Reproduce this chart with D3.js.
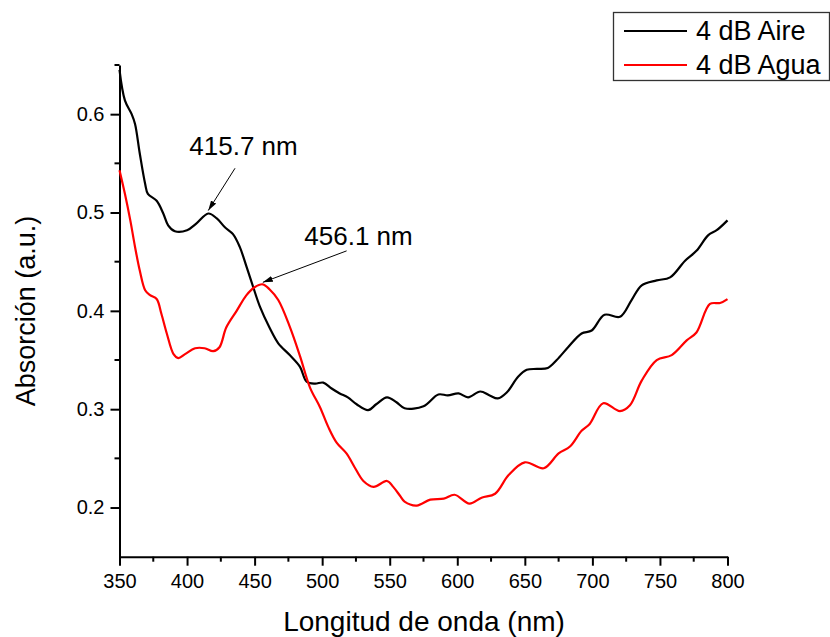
<!DOCTYPE html>
<html>
<head>
<meta charset="utf-8">
<script src="https://cdn.jsdelivr.net/npm/d3@7"></script>
<style>
  html, body { margin: 0; padding: 0; background: #fff; }
  svg { display: block; font-family: 'Liberation Sans', Arial, sans-serif; }
</style>
</head>
<body>
<div class="chart"></div>
<script>
'use strict'

// 4 dB Aire (black)
const aireWl = [350, 354, 359, 361.5, 365, 369, 371, 377.5, 382.4, 386, 391, 400, 407, 415.7, 422, 428, 434, 439, 444, 449, 454, 461, 467.5, 476, 483.6, 488.5, 494.7, 500.8, 507, 513, 519, 525.5, 534, 540, 548, 555, 561, 575, 586, 593, 601, 608, 617, 624, 630, 636.6, 645, 651.4, 659, 667, 673.6, 682, 692, 699.5, 709, 720.4, 729, 736.5, 747.6, 757.5, 768.6, 777, 785.8, 792, 800]
const aireAbs = [0.645, 0.614, 0.600, 0.590, 0.560, 0.529, 0.519, 0.512, 0.499, 0.487, 0.481, 0.482, 0.489, 0.499, 0.494, 0.485, 0.478, 0.465, 0.445, 0.424, 0.404, 0.383, 0.367, 0.355, 0.343, 0.328, 0.326, 0.327, 0.321, 0.316, 0.312, 0.305, 0.299, 0.305, 0.312, 0.307, 0.301, 0.303, 0.315, 0.314, 0.316, 0.312, 0.318, 0.314, 0.311, 0.317, 0.333, 0.340, 0.341, 0.342, 0.350, 0.363, 0.377, 0.380, 0.396, 0.394, 0.411, 0.426, 0.431, 0.434, 0.451, 0.461, 0.477, 0.482, 0.492]

// 4 dB Agua (red)
const aguaWl = [350, 354, 358, 361.5, 365, 369, 372.6, 377.5, 381, 385, 390, 393.5, 398.5, 406, 413, 419.4, 424, 429, 436.7, 444, 450, 456, 461, 467.5, 476, 483.6, 491, 498.4, 504.5, 510.7, 518, 524, 530.5, 538, 548, 552.6, 557.6, 561, 570, 580, 590, 598, 609, 618, 628, 638, 650, 664, 675, 683.4, 692, 698, 708, 720.4, 727.8, 736.5, 747.6, 758.7, 769.8, 777, 787, 794.5, 800]
const aguaAbs = [0.543, 0.519, 0.492, 0.465, 0.441, 0.421, 0.416, 0.412, 0.397, 0.377, 0.356, 0.352, 0.356, 0.362, 0.362, 0.359, 0.363, 0.383, 0.400, 0.416, 0.424, 0.427, 0.422, 0.411, 0.384, 0.354, 0.322, 0.302, 0.282, 0.266, 0.255, 0.241, 0.227, 0.221, 0.227, 0.221, 0.212, 0.206, 0.202, 0.208, 0.209, 0.213, 0.204, 0.210, 0.214, 0.233, 0.246, 0.240, 0.255, 0.262, 0.278, 0.285, 0.306, 0.298, 0.304, 0.329, 0.350, 0.355, 0.370, 0.378, 0.407, 0.408, 0.412]

const xTicks = [350, 400, 450, 500, 550, 600, 650, 700, 750, 800]
const yTicks = [0.2, 0.3, 0.4, 0.5, 0.6]
const seriesNames = ['4 dB Aire', '4 dB Agua']
const seriesColors = ['#000000', '#ff0000']

// peak labels: [text, peak wavelength, peak value, tail wavelength, tail value]
const peakLabels = [
  ['415.7 nm', 415.7, 0.502, 435.5, 0.545],
  ['456.1 nm', 456.1, 0.429, 518.1, 0.461]
]

const width = 830
const height = 637

const x = d3.scaleLinear().domain([350, 800]).range([119.5, 727.5])
const y = d3.scaleLinear().domain([0.15, 0.65]).range([556.7, 65])

const svg = d3.select('.chart').append('svg')
  .attr('width', width)
  .attr('height', height)

svg.append('defs').append('marker')
  .attr('id', 'head')
  .attr('viewBox', '0 0 10 6')
  .attr('refX', 10)
  .attr('refY', 3)
  .attr('markerWidth', 10)
  .attr('markerHeight', 6)
  .attr('markerUnits', 'userSpaceOnUse')
  .attr('orient', 'auto')
  .append('path')
  .attr('d', 'M0,0L10,3L0,6Z')
  .attr('fill', '#000')

// axes with outward major + minor ticks
const minorX = d3.range(375, 800, 50)
const minorY = d3.range(0.25, 0.66, 0.1)

const xAxis = svg.append('g')
  .attr('transform', 'translate(0,' + y(0.15) + ')')
  .call(d3.axisBottom(x).tickValues(xTicks).tickSize(9).tickSizeOuter(0).tickPadding(4).tickFormat(d3.format('d')))
xAxis.append('g').selectAll('line').data(minorX).enter()
  .append('line')
  .attr('x1', (d) => x(d)).attr('x2', (d) => x(d))
  .attr('y1', 0).attr('y2', 5)
  .attr('stroke', '#000')

const yAxis = svg.append('g')
  .attr('transform', 'translate(' + x(350) + ',0)')
  .call(d3.axisLeft(y).tickValues(yTicks).tickSize(9).tickSizeOuter(0).tickPadding(6).tickFormat(d3.format('.1f')))
yAxis.append('g').selectAll('line').data(minorY).enter()
  .append('line')
  .attr('x1', 0).attr('x2', -5)
  .attr('y1', (d) => y(d)).attr('y2', (d) => y(d))
  .attr('stroke', '#000')

svg.selectAll('.domain, .tick line, g > line').attr('stroke-width', 2)
svg.selectAll('.tick text')
  .style('font-size', '20px')
  .style('font-family', "'Liberation Sans', Arial, sans-serif")
  .attr('fill', '#000')
xAxis.selectAll('.tick text').attr('dy', '0.9em')

// axis titles
svg.append('text')
  .attr('x', 424)
  .attr('y', 631)
  .attr('text-anchor', 'middle')
  .style('font-size', '28px')
  .text('Longitud de onda (nm)')

svg.append('text')
  .attr('transform', 'translate(35,' + 311 + ')rotate(-90)')
  .attr('text-anchor', 'middle')
  .style('font-size', '27px')
  .text('Absorción (a.u.)')

// spectra
const line = d3.line()
  .x((d) => x(d[0]))
  .y((d) => y(d[1]))
  .curve(d3.curveCatmullRom.alpha(0.5))

const series = [
  d3.zip(aireWl, aireAbs),
  d3.zip(aguaWl, aguaAbs)
]

svg.append('g').selectAll('path')
  .data(series)
  .enter().append('path')
  .attr('d', line)
  .attr('fill', 'none')
  .attr('stroke', (d, i) => seriesColors[i])
  .attr('stroke-width', 2.2)
  .attr('stroke-linejoin', 'round')

// peak annotations
const notes = svg.append('g')
notes.selectAll('line')
  .data(peakLabels)
  .enter().append('line')
  .attr('x1', (d) => x(d[3])).attr('y1', (d) => y(d[4]))
  .attr('x2', (d) => x(d[1])).attr('y2', (d) => y(d[2]))
  .attr('stroke', '#000')
  .attr('stroke-width', 1)
  .attr('marker-end', 'url(#head)')

notes.selectAll('text')
  .data(peakLabels)
  .enter().append('text')
  .attr('x', (d, i) => i === 0 ? 243.5 : 358.5)
  .attr('y', (d, i) => i === 0 ? 155 : 245)
  .attr('text-anchor', 'middle')
  .style('font-size', '26px')
  .text((d) => d[0])

// legend
const legend = svg.append('g')
legend.append('rect')
  .attr('x', 613.5)
  .attr('y', 12.5)
  .attr('width', 216)
  .attr('height', 68)
  .attr('fill', '#fff')
  .attr('stroke', '#333')
  .attr('stroke-width', 1.3)

const rows = legend.selectAll('g.row')
  .data(seriesNames)
  .enter().append('g')
  .attr('class', 'row')
  .attr('transform', (d, i) => 'translate(0,' + (31 + i * 34) + ')')
rows.append('line')
  .attr('x1', 624).attr('x2', 687)
  .attr('stroke', (d, i) => seriesColors[i])
  .attr('stroke-width', 2)
rows.append('text')
  .attr('x', 696)
  .attr('y', 9)
  .style('font-size', '27px')
  .text((d) => d)
</script>
</body>
</html>
